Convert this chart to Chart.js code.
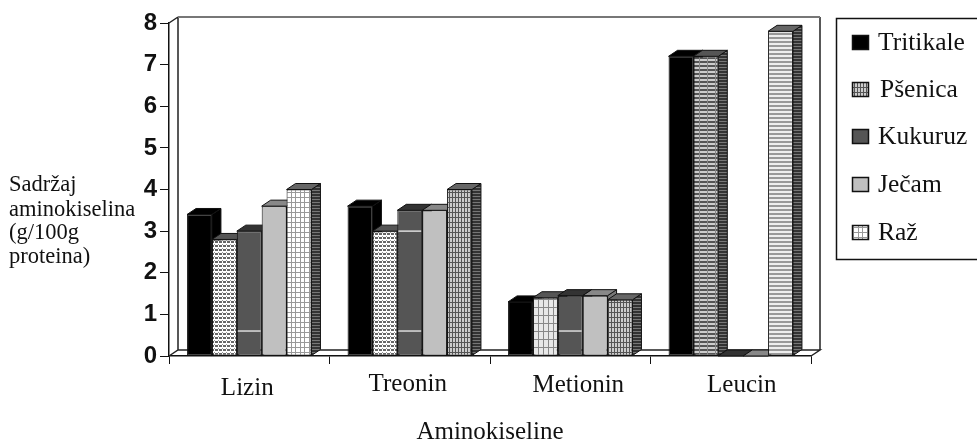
<!DOCTYPE html>
<html>
<head>
<meta charset="utf-8">
<script src="https://cdn.jsdelivr.net/npm/chart.js@4"></script>
<style>
html,body{margin:0;padding:0;background:#fff;overflow:hidden}
#wrap{position:relative;width:977px;height:443px}
#myChart{filter:blur(0.55px)}
</style>
</head>
<body>
<div id="wrap"><canvas id="myChart" width="977" height="443"></canvas></div>
<script>
// data
const categories = ['Lizin', 'Treonin', 'Metionin', 'Leucin'];
const tritikale = [3.4, 3.6, 1.3, 7.2];
const psenica = [2.8, 3.0, 1.4, 7.2];
const kukuruz = [3.0, 3.5, 1.45, 0];
const jecam = [3.6, 3.5, 1.45, 0];
const raz = [4.0, 4.0, 1.35, 7.8];
const yTicks = [0, 1, 2, 3, 4, 5, 6, 7, 8];
const yTitleLines = ['Sadržaj', 'aminokiselina', '(g/100g', 'proteina)'];
const xTitle = 'Aminokiseline';
// light scan streaks on the kukuruz bars: [category index, value]
const kukuruzStreaks = [[0, 0.6], [1, 0.6], [1, 3.0], [2, 0.6]];

const SERIF = '"Liberation Serif", "Times New Roman", serif';

//tile pattern for the hatched bars
function tile(w, h, bg, paint) {
	const c = document.createElement('canvas');
	c.width = w;
	c.height = h;
	const g = c.getContext('2d');
	g.fillStyle = bg;
	g.fillRect(0, 0, w, h);
	paint(g);
	return g.createPattern(c, 'repeat');
}
const bandDots = tile(8, 4, '#fff', g => {
	g.fillStyle = '#666';
	g.fillRect(0, 1, 8, 2);
	g.fillStyle = '#fff';
	g.fillRect(2, 1, 1, 2);
	g.fillRect(6, 1, 1, 2);
	g.fillStyle = '#999';
	g.fillRect(2, 0, 1, 1);
	g.fillRect(6, 0, 1, 1);
});
const bandDark = tile(8, 4, '#ccc', g => {
	g.fillStyle = '#555';
	g.fillRect(0, 1, 8, 2);
	g.fillStyle = '#888';
	g.fillRect(3, 0, 1, 4);
});
const lightDots = tile(10, 8, '#e8e8e8', g => {
	g.fillStyle = '#888';
	g.fillRect(0, 3, 10, 1);
	g.fillRect(3, 0, 1, 8);
	g.fillRect(8, 0, 1, 8);
});
const gridLight = tile(9, 5, '#fff', g => {
	g.fillStyle = '#999';
	g.fillRect(0, 2, 9, 1);
	g.fillRect(3, 0, 1, 5);
	g.fillRect(7, 0, 1, 5);
});
const gridDark = tile(6, 5, '#ccc', g => {
	g.fillStyle = '#555';
	g.fillRect(0, 2, 6, 1);
	g.fillRect(2, 0, 1, 5);
	g.fillRect(5, 0, 1, 5);
});
const stripes = tile(4, 4, '#eee', g => {
	g.fillStyle = '#999';
	g.fillRect(0, 1, 4, 2);
});
const sideHatch = tile(3, 3, '#333', g => {
	g.fillStyle = '#777';
	g.fillRect(0, 1, 3, 1);
});

const faces = [
	{top: '#000', side: '#000'},
	{top: '#555', side: sideHatch},
	{top: '#333', side: '#333'},
	{top: '#888', side: '#777'},
	{top: '#666', side: sideHatch}
];
const DX = 9, DY = 6;
// the labels in the picture sit unevenly under their groups
const labelNudgeX = [-2, -2, 8, 11];
const labelNudgeY = [3, -1, 0, 0];

function face(ctx, pts, fill) {
	ctx.beginPath();
	pts.forEach((p, i) => i ? ctx.lineTo(p[0], p[1]) : ctx.moveTo(p[0], p[1]));
	ctx.closePath();
	ctx.fillStyle = fill;
	ctx.fill();
	ctx.strokeStyle = '#111';
	ctx.lineWidth = 1;
	ctx.stroke();
}

//box walls, floor, bar depth, legend and the flat y title
const boxPlugin = {
	id: 'box3d',
	afterUpdate(chart) {
		chart.scales.x.getLabelItems(chart.chartArea).forEach((item, i) => {
			item.options.translation[0] += labelNudgeX[i];
			item.options.translation[1] += labelNudgeY[i];
		});
	},
	beforeDatasetsDraw(chart) {
		const ctx = chart.ctx, a = chart.chartArea;
		ctx.save();
		ctx.strokeStyle = '#222';
		ctx.lineWidth = 1.5;
		ctx.beginPath();
		ctx.moveTo(a.left, a.top);
		ctx.lineTo(a.left + DX, a.top - DY);
		ctx.moveTo(a.left + DX, a.top - DY);
		ctx.lineTo(a.left + DX, a.bottom - DY);
		ctx.moveTo(a.left, a.bottom);
		ctx.lineTo(a.left + DX, a.bottom - DY);
		ctx.lineTo(a.right + DX, a.bottom - DY);
		ctx.lineTo(a.right, a.bottom);
		ctx.moveTo(a.right + DX, a.bottom - DY);
		ctx.lineTo(a.right + DX, a.top - DY);
		ctx.stroke();
		ctx.strokeStyle = '#777';
		ctx.lineWidth = 2;
		ctx.beginPath();
		ctx.moveTo(a.left + DX, a.top - DY);
		ctx.lineTo(a.right + DX, a.top - DY);
		ctx.stroke();
		ctx.restore();
	},
	// chart.js paints datasets last to first, here they overlap left to right
	beforeDatasetDraw() {
		return false;
	},
	afterDatasetsDraw(chart) {
		const ctx = chart.ctx, y = chart.scales.y;
		ctx.save();
		categories.forEach((c, i) => {
			chart.data.datasets.forEach((ds, d) => {
				const bar = chart.getDatasetMeta(d).data[i];
				const l = bar.x - bar.width / 2, r = bar.x + bar.width / 2;
				if (bar.base - bar.y > 0) {
					face(ctx, [[r, bar.y], [r + DX, bar.y - DY], [r + DX, bar.base - DY], [r, bar.base]], faces[d].side);
				}
				face(ctx, [[l, bar.y], [l + DX, bar.y - DY], [r + DX, bar.y - DY], [r, bar.y]], faces[d].top);
				bar.draw(ctx);
			});
		});
		ctx.strokeStyle = '#ddd';
		ctx.lineWidth = 1.5;
		kukuruzStreaks.forEach(s => {
			const bar = chart.getDatasetMeta(2).data[s[0]];
			const py = y.getPixelForValue(s[1]);
			ctx.beginPath();
			ctx.moveTo(bar.x - bar.width / 2 + 1, py);
			ctx.lineTo(bar.x + bar.width / 2 - 1, py);
			ctx.stroke();
		});
		ctx.restore();
	},
	afterDraw(chart) {
		const ctx = chart.ctx;
		ctx.save();
		// legend frame runs off the right edge
		ctx.strokeStyle = '#111';
		ctx.lineWidth = 1.5;
		ctx.strokeRect(836.5, 18.5, 160, 241);
		const rows = [43, 90, 137, 185, 233];
		const textX = [878, 880, 878, 878, 878];
		chart.data.datasets.forEach((ds, d) => {
			ctx.fillStyle = d === 1 ? gridDark : d === 4 ? gridLight : ds.backgroundColor[0];
			ctx.fillRect(852.5, rows[d] - 7.5, 16, 14);
			ctx.strokeRect(852.5, rows[d] - 7.5, 16, 14);
			ctx.fillStyle = '#111';
			ctx.font = '25.5px ' + SERIF;
			ctx.textBaseline = 'middle';
			ctx.textAlign = 'left';
			ctx.fillText(ds.label, textX[d], rows[d]);
		});
		ctx.font = '22.5px ' + SERIF;
		const ly = [185, 210, 233, 257];
		yTitleLines.forEach((t, i) => ctx.fillText(t, 9, ly[i]));
		ctx.restore();
	}
};

const fronts = [
	['#000', '#000', '#000', '#000'],
	[bandDots, bandDots, lightDots, bandDark],
	['#555', '#555', '#555', '#555'],
	['#c0c0c0', '#c0c0c0', '#c0c0c0', '#c0c0c0'],
	[gridLight, gridDark, gridDark, stripes]
];
const labels = ['Tritikale', 'Pšenica', 'Kukuruz', 'Ječam', 'Raž'];
const values = [tritikale, psenica, kukuruz, jecam, raz];

new Chart(document.getElementById('myChart'), {
	type: 'bar',
	data: {
		labels: categories,
		datasets: labels.map((label, d) => ({
			label: label,
			data: values[d],
			backgroundColor: fronts[d],
			borderColor: '#111',
			borderWidth: 1,
			borderSkipped: false,
			categoryPercentage: 0.775,
			barPercentage: 1
		}))
	},
	options: {
		responsive: false,
		animation: false,
		layout: {padding: {top: 23, right: 166, left: 0, bottom: 0}},
		plugins: {legend: {display: false}, tooltip: {enabled: false}},
		scales: {
			x: {
				afterFit: s => { s.height = 87; },
				border: {color: '#111', width: 1.5},
				grid: {drawOnChartArea: false, tickLength: 8, tickColor: '#111'},
				ticks: {color: '#111', font: {family: SERIF, size: 25}, padding: 6, maxRotation: 0},
				title: {display: true, text: xTitle, color: '#111', font: {family: SERIF, size: 25}, padding: {top: 16, bottom: -4}}
			},
			y: {
				min: 0,
				max: 8,
				afterFit: s => { s.width = 169; },
				afterBuildTicks: s => { s.ticks = yTicks.map(v => ({value: v})); },
				border: {color: '#111', width: 1.5},
				grid: {drawOnChartArea: false, tickLength: 9, tickColor: '#111'},
				ticks: {color: '#111', font: {family: '"Liberation Sans", Arial, sans-serif', size: 24, weight: 'bold'}, padding: 3}
			}
		}
	},
	plugins: [boxPlugin]
});
</script>
</body>
</html>
